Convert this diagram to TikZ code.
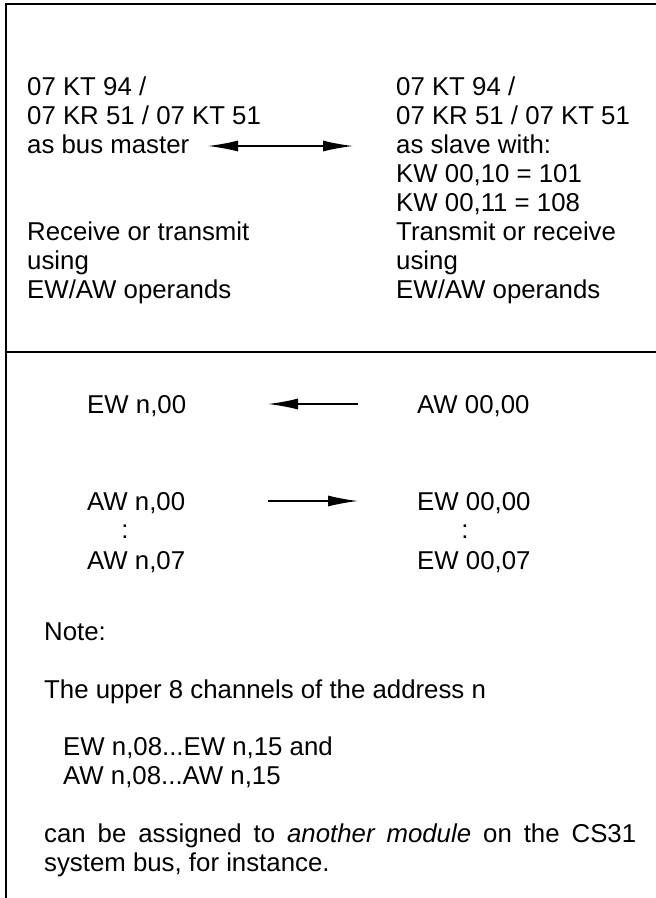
\documentclass[tikz,border=0pt]{standalone}
\usepackage{fontspec}
\setmainfont{Liberation Sans}
\usetikzlibrary{arrows.meta}
\begin{document}
\begin{tikzpicture}[x=1pt,y=-1pt,
  txt/.style={anchor=west, inner sep=0pt, text height=18.5pt, text depth=0pt, font=\fontsize{25.8}{29}\selectfont},
  ctxt/.style={txt, anchor=center},
  frameline/.style={line width=1.8pt, black},
  arr/.style={line width=1.4pt, -{Latex[length=30pt,width=11pt]}},
  darr/.style={line width=1.4pt, {Latex[length=30pt,width=11pt]}-{Latex[length=30pt,width=11pt]}}
]
\useasboundingbox (0,0) rectangle (656,898);
% frame
\coordinate (tl) at (6,4);
\coordinate (tr) at (656,4);
\coordinate (bl) at (6,898);
\coordinate (dl) at (6,352);
\coordinate (dr) at (656,352);
\draw[frameline] (tr) -- (tl) -- (bl);
\draw[frameline] (dl) -- (dr);
% upper left
\node[txt] (m1) at (27,86) {07 KT 94 /};
\node[txt] (m2) at (27,115) {07 KR 51 / 07 KT 51};
\node[txt] (m3) at (27,144) {as bus master};
\node[txt] (m4) at (27,231) {Receive or transmit};
\node[txt] (m5) at (27,260) {using};
\node[txt] (m6) at (27,289) {EW/AW operands};
% upper right
\node[txt] (s1) at (396,86) {07 KT 94 /};
\node[txt] (s2) at (396,115) {07 KR 51 / 07 KT 51};
\node[txt] (s3) at (396,144) {as slave with:};
\node[txt] (s4) at (396,173) {KW 00,10 = 101};
\node[txt] (s5) at (396,202) {KW 00,11 = 108};
\node[txt] (s6) at (396,231) {Transmit or receive};
\node[txt] (s7) at (396,260) {using};
\node[txt] (s8) at (396,289) {EW/AW operands};
\coordinate (ua) at (208,146);
\coordinate (ub) at (353,146);
\draw[darr] (ua) -- (ub);
% lower
\node[txt] (e0) at (87,404) {EW n,00};
\node[txt] (a0s) at (417,404) {AW 00,00};
\coordinate (l1a) at (358,404);
\coordinate (l1b) at (268,404);
\draw[arr] (l1a) -- (l1b);
\node[txt] (a0) at (87,501) {AW n,00};
\node[txt] (e0s) at (417,501) {EW 00,00};
\coordinate (l2a) at (268,501);
\coordinate (l2b) at (358,501);
\draw[arr] (l2a) -- (l2b);
\node[ctxt] (d1) at (125,529) {:};
\node[ctxt] (d2) at (465,529) {:};
\node[txt] (a7) at (87,560) {AW n,07};
\node[txt] (e7s) at (417,560) {EW 00,07};
\node[txt] (n1) at (44,631) {Note:};
\node[txt] (n2) at (44,689) {The upper 8 channels of the address n};
\node[txt] (n3) at (63,746) {EW n,08...EW n,15 and};
\node[txt] (n4) at (63,775) {AW n,08...AW n,15};
\node[txt] (n5) at (44,833) {\makebox[592pt][s]{can be assigned to \textit{another module} on the CS31}};
\node[txt] (n6) at (44,862) {system bus, for instance.};
\end{tikzpicture}
\end{document}
